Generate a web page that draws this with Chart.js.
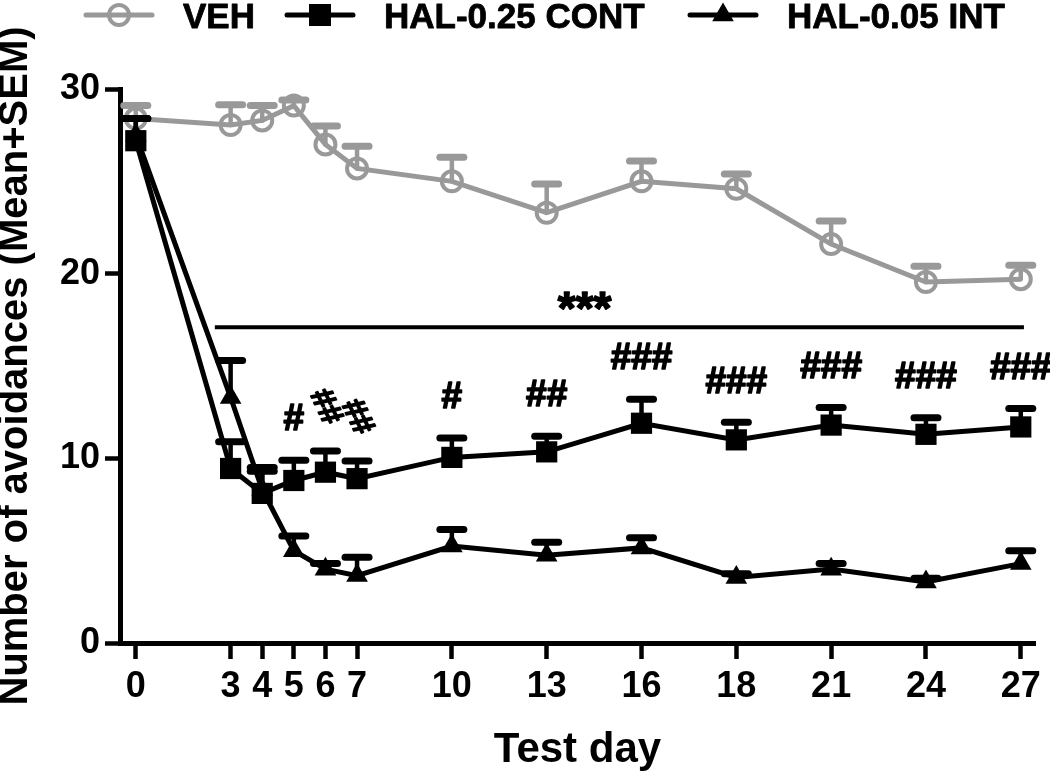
<!DOCTYPE html>
<html>
<head>
<meta charset="utf-8">
<title>Number of avoidances by test day</title>
<script src="https://cdn.jsdelivr.net/npm/chart.js@4.4.1/dist/chart.umd.min.js"></script>
<style>
  html, body { margin: 0; padding: 0; background: #fff; }
  #chart { display: block; }
</style>
</head>
<body>
<canvas id="chart" width="1050" height="778"></canvas>
<script>
// tick labels on the x axis and where each one sits on the linear day scale
const dayLabels = ['0', '3', '4', '5', '6', '7', '10', '13', '16', '18', '21', '24', '27']
const dayPos = [0, 3, 4, 5, 6, 7, 10, 13, 16, 19, 22, 25, 28]
const yTicks = [0, 10, 20, 30]

const vehMean = [28.4, 28.05, 28.3, 29.1, 27.0, 25.7, 25.0, 23.3, 25.0, 24.6, 21.6, 19.55, 19.7]
const vehSem = [0.7, 1.1, 0.8, 0.3, 1.0, 1.2, 1.3, 1.55, 1.1, 0.8, 1.25, 0.85, 0.75]

const contMean = [27.2, 9.45, 8.1, 8.8, 9.25, 8.9, 10.05, 10.35, 11.9, 11.0, 11.8, 11.3, 11.7]
const contSem = [1.2, 1.45, 1.4, 1.1, 1.15, 0.95, 1.05, 0.85, 1.3, 0.95, 0.95, 0.9, 1.0]

const intMean = [27.5, 13.3, 8.3, 5.0, 4.0, 3.65, 5.25, 4.75, 5.15, 3.55, 4.0, 3.3, 4.3]
const intSem = [0.9, 2.0, 1.0, 0.8, 0.3, 1.0, 0.9, 0.7, 0.55, 0.2, 0.3, 0.2, 0.7]

// significance marks above the HAL-0.25 CONT points
const hashMarks = ['', '', '', '#', '##', '##', '#', '##', '###', '###', '###', '###', '###']

const GRAY = '#999999'
const FONT = '"Liberation Sans", Arial, sans-serif'

Chart.defaults.font.family = FONT
Chart.defaults.font.weight = 'bold'
Chart.defaults.color = '#000'

const toPoints = (vals) => vals.map((v, i) => ({ x: dayPos[i], y: v }))

// upper-only error bars, drawn under each dataset's line and markers
const errorBars = {
  id: 'errorBars',
  beforeDatasetDraw(chart, args) {
    const ds = chart.data.datasets[args.index]
    const yScale = chart.scales.y
    const ctx = chart.ctx
    ctx.save()
    ctx.strokeStyle = ds.borderColor
    ctx.lineCap = 'round'
    args.meta.data.forEach((pt, i) => {
      const top = yScale.getPixelForValue(ds.data[i].y + ds.sem[i])
      ctx.lineWidth = 4.5
      ctx.beginPath()
      ctx.moveTo(pt.x, pt.y)
      ctx.lineTo(pt.x, top)
      ctx.stroke()
      ctx.lineWidth = 7
      ctx.beginPath()
      ctx.moveTo(pt.x - 12, top)
      ctx.lineTo(pt.x + 12, top)
      ctx.stroke()
    })
    ctx.restore()
  },
}

function drawMarker(ctx, style, x, y, color) {
  ctx.save()
  ctx.strokeStyle = color
  ctx.fillStyle = color
  if (style === 'circle') {
    ctx.lineWidth = 4
    ctx.beginPath()
    ctx.arc(x, y, 10, 0, Math.PI * 2)
    ctx.stroke()
  } else if (style === 'rect') {
    ctx.fillRect(x - 11, y - 11, 22, 22)
  } else {
    const r = 12.5
    ctx.beginPath()
    ctx.moveTo(x, y - r)
    ctx.lineTo(x + r * 0.866, y + r / 2)
    ctx.lineTo(x - r * 0.866, y + r / 2)
    ctx.closePath()
    ctx.fill()
  }
  ctx.restore()
}

// text with a thin outline so it reads as heavy as the original bold
function boldText(ctx, txt, x, y, extra) {
  ctx.lineWidth = extra
  ctx.lineJoin = 'round'
  ctx.strokeText(txt, x, y)
  ctx.fillText(txt, x, y)
}

// legend along the top edge: line sample with marker, then the label
const topLegend = {
  id: 'topLegend',
  afterDraw(chart) {
    const ctx = chart.ctx
    const starts = [86, 287, 690]
    chart.data.datasets.forEach((ds, i) => {
      const x0 = starts[i]
      const yc = 15
      ctx.save()
      ctx.strokeStyle = ds.borderColor
      ctx.lineWidth = 5
      ctx.lineCap = 'round'
      ctx.beginPath()
      ctx.moveTo(x0, yc)
      ctx.lineTo(x0 + 66, yc)
      ctx.stroke()
      ctx.restore()
      drawMarker(ctx, ds.pointStyle, x0 + 33, yc, ds.borderColor)
      ctx.save()
      ctx.fillStyle = '#000'
      ctx.strokeStyle = '#000'
      ctx.font = 'bold 35px ' + FONT
      ctx.textAlign = 'left'
      ctx.textBaseline = 'alphabetic'
      boldText(ctx, ds.label, x0 + 97, 28, 0.8)
      ctx.restore()
    })
  },
}

// *** bar across days 3-27 and the # marks over the CONT group
const significance = {
  id: 'significance',
  afterDatasetsDraw(chart) {
    const ctx = chart.ctx
    const xs = chart.scales.x
    const ys = chart.scales.y
    ctx.save()
    ctx.strokeStyle = '#000'
    ctx.lineWidth = 4
    ctx.beginPath()
    ctx.moveTo(xs.getPixelForValue(2.5), ys.getPixelForValue(17.1))
    ctx.lineTo(xs.getPixelForValue(28.1), ys.getPixelForValue(17.1))
    ctx.stroke()

    ctx.fillStyle = '#000'
    ctx.textAlign = 'center'
    ctx.textBaseline = 'alphabetic'
    ctx.font = 'bold 46px ' + FONT
    boldText(ctx, '***', xs.getPixelForValue(14.2), ys.getPixelForValue(17.3), 1.5)

    const tilted = ['6', '7']
    const meta = chart.getDatasetMeta(1)
    ctx.textBaseline = 'middle'
    meta.data.forEach((pt, i) => {
      const txt = hashMarks[i]
      if (!txt) return
      const top = ys.getPixelForValue(contMean[i] + contSem[i])
      const cy = top - 40
      if (tilted.includes(dayLabels[i])) {
        ctx.save()
        ctx.font = 'bold 32px ' + FONT
        ctx.translate(pt.x, cy - 4)
        ctx.rotate(65 * Math.PI / 180)
        boldText(ctx, txt, 0, 0, 1.6)
        ctx.restore()
      } else {
        ctx.font = 'bold 37px ' + FONT
        boldText(ctx, txt, pt.x, cy, 1.6)
      }
    })
    ctx.restore()
  },
}

new Chart(document.getElementById('chart').getContext('2d'), {
  type: 'line',
  data: {
    datasets: [
      {
        label: 'VEH',
        data: toPoints(vehMean),
        sem: vehSem,
        borderColor: GRAY,
        borderWidth: 5,
        pointStyle: 'circle',
        pointRadius: 10,
        pointBorderWidth: 4,
        pointBorderColor: GRAY,
        pointBackgroundColor: 'rgba(0,0,0,0)',
        order: 3,
      },
      {
        label: 'HAL-0.25 CONT',
        data: toPoints(contMean),
        sem: contSem,
        borderColor: '#000',
        borderWidth: 5,
        pointStyle: 'rect',
        pointRadius: 15,
        pointBorderWidth: 0,
        pointBackgroundColor: '#000',
        order: 1,
      },
      {
        label: 'HAL-0.05 INT',
        data: toPoints(intMean),
        sem: intSem,
        borderColor: '#000',
        borderWidth: 5,
        pointStyle: 'triangle',
        pointRadius: 12.5,
        pointBorderWidth: 0,
        pointBackgroundColor: '#000',
        order: 2,
      },
    ],
  },
  options: {
    responsive: false,
    animation: false,
    devicePixelRatio: 1,
    clip: false,
    layout: { padding: { top: 89, right: 8, left: 0, bottom: 0 } },
    plugins: {
      legend: { display: false },
      tooltip: { enabled: false },
    },
    elements: { line: { tension: 0 } },
    scales: {
      x: {
        type: 'linear',
        min: -0.5,
        max: 28.45,
        afterFit: (scale) => { scale.height = 135 },
        afterBuildTicks: (scale) => { scale.ticks = dayPos.map((v) => ({ value: v })) },
        border: { display: true, color: '#000', width: 5 },
        grid: { drawOnChartArea: false, drawTicks: true, tickLength: 16, tickWidth: 4.5, tickColor: '#000' },
        ticks: {
          autoSkip: false,
          maxRotation: 0,
          padding: 6,
          font: { size: 36, weight: 'bold' },
          callback: (value) => dayLabels[dayPos.indexOf(value)],
        },
        title: {
          display: true,
          text: 'Test day',
          font: { size: 42, weight: 'bold', lineHeight: 1 },
          padding: { top: 0, bottom: 7 },
        },
      },
      y: {
        min: 0,
        max: 30,
        afterFit: (scale) => { scale.width = 120 },
        afterBuildTicks: (scale) => { scale.ticks = yTicks.map((v) => ({ value: v })) },
        border: { display: true, color: '#000', width: 5 },
        grid: { drawOnChartArea: false, drawTicks: true, tickLength: 15, tickWidth: 4.5, tickColor: '#000' },
        ticks: {
          padding: 5,
          font: { size: 36, weight: 'bold' },
        },
        title: {
          display: true,
          text: 'Number of avoidances (Mean+SEM)',
          font: { size: 40, weight: 'bold', lineHeight: 0.8 },
          padding: { top: 0, bottom: 0 },
        },
      },
    },
  },
  plugins: [errorBars, topLegend, significance],
})
</script>
</body>
</html>
